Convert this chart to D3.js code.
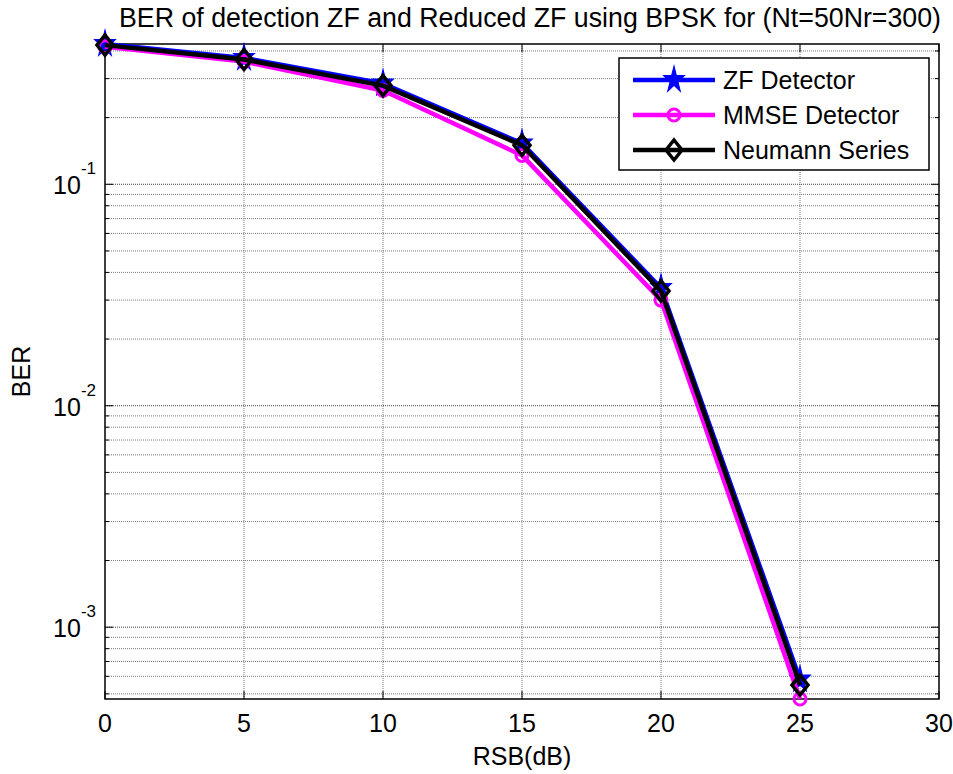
<!DOCTYPE html>
<html>
<head>
<meta charset="utf-8">
<script src="https://cdn.jsdelivr.net/npm/d3@7"></script>
<style>
  body { margin: 0; background: #fff; }
  text { font-family: "Liberation Sans", Arial, sans-serif; fill: #000; }
</style>
</head>
<body>
<div id="container"></div>
<script>
var width = 953;
var height = 774;

// data
var snr = [0, 5, 10, 15, 20, 25];
var berZF = [0.43, 0.372, 0.285, 0.153, 0.034, 5.8e-4];
var berMMSE = [0.418, 0.358, 0.265, 0.135, 0.030, 4.74e-4];
var berNS = [0.425, 0.366, 0.279, 0.150, 0.033, 5.48e-4];
var xTicks = [0, 5, 10, 15, 20, 25, 30];
var yDecades = [1e-3, 1e-2, 1e-1];
var seriesNames = ["ZF Detector", "MMSE Detector", "Neumann Series"];

var m = {left: 105, right: 939, top: 44, bottom: 699};

var allVals = berZF.concat(berMMSE, berNS);
var x = d3.scaleLinear().domain([0, 30]).range([m.left, m.right]);
var y = d3.scaleLog().domain(d3.extent(allVals)).range([m.bottom, m.top]);

var svg = d3.select('#container').append('svg')
	.attr('width', width)
	.attr('height', height);

// grid
var grid = svg.append('g').attr('class', 'grid');
xTicks.slice(1, -1).forEach(function(t){
	grid.append('line')
		.attr('x1', x(t)).attr('x2', x(t))
		.attr('y1', m.top).attr('y2', m.bottom)
		.attr('stroke', '#7a7a7a').attr('stroke-dasharray', '1,1');
});
var minorVals = [];
var d0 = y.domain();
for (var e = -4; e <= 0; e++) {
	for (var k = 1; k <= 9; k++) {
		var v = k * Math.pow(10, e);
		if (v >= d0[0] && v <= d0[1]) minorVals.push({v: v, major: k == 1});
	}
}
minorVals.forEach(function(d){
	grid.append('line')
		.attr('x1', m.left).attr('x2', m.right)
		.attr('y1', y(d.v)).attr('y2', y(d.v))
		.attr('stroke', d.major ? '#444' : '#7a7a7a')
		.attr('stroke-dasharray', '1,1');
});

// ticks inside the box
var ticks = svg.append('g');
xTicks.forEach(function(t){
	ticks.append('line').attr('x1', x(t)).attr('x2', x(t))
		.attr('y1', m.bottom).attr('y2', m.bottom - 8).attr('stroke', '#000');
	ticks.append('line').attr('x1', x(t)).attr('x2', x(t))
		.attr('y1', m.top).attr('y2', m.top + 8).attr('stroke', '#000');
	svg.append('text')
		.attr('x', x(t)).attr('y', m.bottom + 33)
		.attr('text-anchor', 'middle')
		.style('font-size', '25px')
		.text(t);
});
minorVals.forEach(function(d){
	var len = d.major ? 8 : 4;
	ticks.append('line').attr('x1', m.left).attr('x2', m.left + len)
		.attr('y1', y(d.v)).attr('y2', y(d.v)).attr('stroke', '#000');
	ticks.append('line').attr('x1', m.right).attr('x2', m.right - len)
		.attr('y1', y(d.v)).attr('y2', y(d.v)).attr('stroke', '#000');
});
yDecades.forEach(function(v){
	var t = svg.append('text')
		.attr('x', 96).attr('y', y(v) + 10)
		.attr('text-anchor', 'end')
		.style('font-size', '25px');
	t.append('tspan').text('10');
	t.append('tspan').attr('dy', -20).style('font-size', '17px')
		.text(Math.round(Math.log10(v)));
});

svg.append('rect')
	.attr('x', m.left).attr('y', m.top)
	.attr('width', m.right - m.left).attr('height', m.bottom - m.top)
	.attr('fill', 'none').attr('stroke', '#000').attr('stroke-width', 1.5);

// labels
svg.append('text')
	.attr('x', 530).attr('y', 27)
	.attr('text-anchor', 'middle')
	.attr('textLength', 822).attr('lengthAdjust', 'spacingAndGlyphs')
	.style('font-size', '27px')
	.text('BER of detection ZF and Reduced ZF using BPSK for (Nt=50Nr=300)');
svg.append('text')
	.attr('x', (m.left + m.right) / 2).attr('y', 765)
	.attr('text-anchor', 'middle')
	.style('font-size', '25px')
	.text('RSB(dB)');
svg.append('text')
	.attr('transform', 'translate(30,' + ((m.top + m.bottom) / 2) + ') rotate(-90)')
	.attr('text-anchor', 'middle')
	.style('font-size', '25px')
	.text('BER');

// markers
function starPath(){ return d3.symbol().type(d3.symbolStar).size(130)(); }
function drawMarker(g, kind, cx, cy){
	if (kind == 'star') {
		g.append('path').attr('d', starPath())
			.attr('transform', 'translate(' + cx + ',' + cy + ') scale(1,1.3)')
			.attr('fill', '#0000ff').attr('stroke', '#0000ff');
	} else if (kind == 'circle') {
		g.append('circle').attr('cx', cx).attr('cy', cy).attr('r', 6)
			.attr('fill', 'none').attr('stroke', '#ff00ff').attr('stroke-width', 3);
	} else {
		g.append('path')
			.attr('d', 'M0,-10L8,0L0,10L-8,0Z')
			.attr('transform', 'translate(' + cx + ',' + cy + ')')
			.attr('fill', 'none').attr('stroke', '#000').attr('stroke-width', 3.5);
	}
}

var series = [
	{vals: berZF, color: '#0000ff', marker: 'star'},
	{vals: berMMSE, color: '#ff00ff', marker: 'circle'},
	{vals: berNS, color: '#000000', marker: 'diamond'}
];

var line = d3.line().x(function(d){ return x(d[0]); }).y(function(d){ return y(d[1]); });
series.forEach(function(s){
	var pts = d3.zip(snr, s.vals);
	var g = svg.append('g');
	g.append('path').datum(pts).attr('d', line)
		.attr('fill', 'none').attr('stroke', s.color)
		.attr('stroke-width', 4.5).attr('stroke-linejoin', 'round');
	pts.forEach(function(p){ drawMarker(g, s.marker, x(p[0]), y(p[1])); });
});

// legend
var lg = svg.append('g');
lg.append('rect').attr('x', 619).attr('y', 58).attr('width', 310).attr('height', 112)
	.attr('fill', '#fff').attr('stroke', '#000').attr('stroke-width', 1.5);
series.forEach(function(s, i){
	var ly = 80 + i * 35;
	lg.append('line').attr('x1', 633).attr('x2', 715).attr('y1', ly).attr('y2', ly)
		.attr('stroke', s.color).attr('stroke-width', 4.5);
	drawMarker(lg, s.marker, 674, ly);
	lg.append('text').attr('x', 723).attr('y', ly + 9)
		.style('font-size', '25px').text(seriesNames[i]);
});
</script>
</body>
</html>
